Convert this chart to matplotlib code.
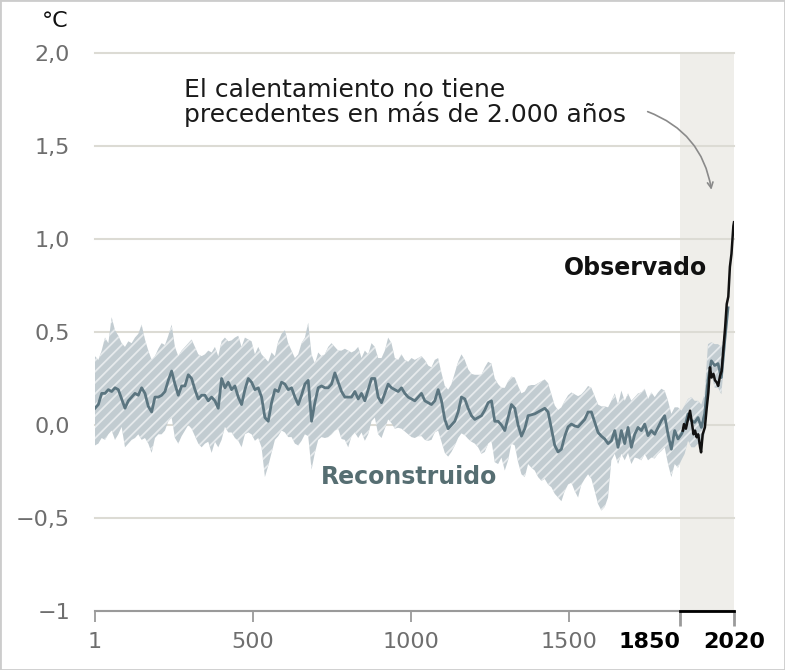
import numpy as np
import matplotlib.pyplot as plt
from matplotlib.patches import Rectangle

plt.rcParams['font.family'] = ['DejaVu Sans']
plt.rcParams['hatch.linewidth'] = 1.3

# reconstruccion: media y rango (~cada 10 años, 1-2000)
recon_mid = [
    0.09, 0.11, 0.17, 0.17, 0.19, 0.18, 0.20, 0.19, 0.14, 0.09,
    0.13, 0.15, 0.17, 0.16, 0.20, 0.17, 0.10, 0.07, 0.15, 0.15,
    0.16, 0.18, 0.24, 0.29, 0.22, 0.16, 0.21, 0.21, 0.27, 0.25,
    0.19, 0.14, 0.16, 0.16, 0.13, 0.15, 0.13, 0.09,
    0.25, 0.20, 0.23, 0.19, 0.21, 0.15, 0.11, 0.19, 0.25, 0.23,
    0.19, 0.20, 0.15, 0.04, 0.02, 0.12, 0.19, 0.18, 0.23, 0.22,
    0.19, 0.20, 0.15, 0.11, 0.16, 0.22, 0.24, 0.02, 0.12, 0.20,
    0.21, 0.20, 0.20, 0.22, 0.28, 0.23, 0.18, 0.15, 0.15,
    0.15, 0.18, 0.14, 0.17, 0.13, 0.19, 0.25, 0.25, 0.15, 0.12,
    0.17, 0.22, 0.20, 0.19, 0.18, 0.20, 0.17, 0.15, 0.14, 0.13,
    0.15, 0.17, 0.13, 0.12, 0.11, 0.13, 0.19, 0.13, 0.03, -0.02,
    0.00, 0.02, 0.07, 0.15, 0.14, 0.09, 0.05, 0.03, 0.04,
    0.05, 0.08, 0.12, 0.13, 0.02, 0.02, 0.00, -0.03, 0.04, 0.11,
    0.09, 0.00, -0.06, -0.02, 0.05, 0.055, 0.06, 0.07, 0.08, 0.09,
    0.07, -0.02, -0.11, -0.145, -0.13, -0.06, -0.01, 0.005, -0.005, -0.01,
    0.01, 0.03, 0.07, 0.07, 0.015, -0.04, -0.06, -0.075, -0.10,
    -0.085, -0.03, -0.12, -0.03, -0.10, -0.013, -0.12, -0.05, -0.013, -0.03,
    0.005, -0.057, -0.03, -0.05, -0.013, 0.023, 0.05, -0.05, -0.13, -0.03,
    -0.075, -0.05, -0.013, 0.06, 0.023, 0.014, 0.04, -0.013, 0.06, 0.24,
    0.345, 0.32, 0.33, 0.255, 0.45, 0.63,
]
recon_upper = [
    0.37, 0.35, 0.40, 0.47, 0.44, 0.58, 0.51, 0.48, 0.44, 0.42,
    0.45, 0.44, 0.47, 0.49, 0.54, 0.46, 0.40, 0.35, 0.37, 0.41,
    0.44, 0.43, 0.48, 0.54, 0.42, 0.37, 0.40, 0.42, 0.44, 0.46,
    0.42, 0.38, 0.37, 0.38, 0.40, 0.39, 0.42, 0.37,
    0.45, 0.47, 0.45, 0.455, 0.47, 0.48, 0.42, 0.47, 0.46, 0.45,
    0.38, 0.42, 0.38, 0.36, 0.34, 0.39, 0.37, 0.45, 0.49, 0.51,
    0.44, 0.40, 0.36, 0.38, 0.44, 0.47, 0.55, 0.38, 0.33, 0.39,
    0.37, 0.38, 0.42, 0.44, 0.42, 0.40, 0.40, 0.41, 0.40,
    0.39, 0.40, 0.42, 0.36, 0.40, 0.38, 0.44, 0.42, 0.36, 0.36,
    0.40, 0.47, 0.44, 0.36, 0.35, 0.38, 0.35, 0.34, 0.36, 0.35,
    0.36, 0.37, 0.35, 0.32, 0.31, 0.35, 0.36, 0.28, 0.21, 0.19,
    0.22, 0.28, 0.34, 0.38, 0.35, 0.30, 0.275, 0.27, 0.27,
    0.27, 0.31, 0.34, 0.33, 0.25, 0.22, 0.20, 0.20, 0.235, 0.26,
    0.255, 0.21, 0.17, 0.18, 0.21, 0.215, 0.215, 0.225, 0.235, 0.245,
    0.225, 0.165, 0.105, 0.08, 0.095, 0.13, 0.16, 0.175, 0.165, 0.155,
    0.165, 0.185, 0.21, 0.20, 0.155, 0.11, 0.10, 0.10, 0.095,
    0.13, 0.17, 0.11, 0.185, 0.13, 0.17, 0.13, 0.15, 0.17, 0.175,
    0.195, 0.14, 0.175, 0.15, 0.175, 0.195, 0.185, 0.13, 0.06, 0.095,
    0.095, 0.077, 0.105, 0.14, 0.15, 0.13, 0.13, 0.11, 0.17, 0.435,
    0.445, 0.435, 0.435, 0.42, 0.49, 0.65,
]
recon_lower = [
    -0.11, -0.10, -0.07, -0.08, -0.05, -0.03, -0.08, -0.05, -0.01, -0.12,
    -0.10, -0.08, -0.07, -0.05, -0.08, -0.07, -0.10, -0.15, -0.07, -0.05,
    -0.05, -0.03, 0.02, 0.04, -0.07, -0.10, -0.06, -0.03, 0.00, -0.02,
    -0.06, -0.10, -0.12, -0.10, -0.09, -0.15, -0.09, -0.12,
    -0.08, -0.01, -0.04, -0.04, -0.07, -0.085, -0.12, -0.05, -0.04, -0.05,
    -0.085, -0.07, -0.12, -0.28, -0.22, -0.15, -0.08, -0.06, -0.03, -0.04,
    -0.065, -0.065, -0.10, -0.11, -0.085, -0.05, -0.06, -0.24, -0.15, -0.08,
    -0.065, -0.07, -0.065, -0.05, -0.03, -0.02, -0.075, -0.08, -0.12,
    -0.06, -0.04, -0.07, -0.04, -0.085, -0.05, 0.02, 0.04, -0.05, -0.07,
    -0.02, 0.03, 0.01, -0.02, -0.015, -0.02, -0.035, -0.05, -0.065, -0.07,
    -0.06, -0.06, -0.08, -0.085, -0.08, -0.04, -0.03, -0.09, -0.15, -0.17,
    -0.145, -0.11, -0.07, -0.045, -0.055, -0.075, -0.09, -0.10, -0.12,
    -0.155, -0.145, -0.10, -0.085, -0.20, -0.21, -0.175, -0.245, -0.19, -0.10,
    -0.11, -0.20, -0.265, -0.28, -0.21, -0.23, -0.245, -0.28, -0.30, -0.29,
    -0.32, -0.335, -0.37, -0.39, -0.41, -0.355, -0.32, -0.31, -0.355, -0.39,
    -0.32, -0.29, -0.265, -0.29, -0.355, -0.425, -0.46, -0.44, -0.39,
    -0.19, -0.155, -0.21, -0.155, -0.19, -0.15, -0.21, -0.175, -0.18, -0.19,
    -0.155, -0.19, -0.175, -0.18, -0.155, -0.14, -0.12, -0.21, -0.28, -0.21,
    -0.23, -0.19, -0.155, -0.085, -0.12, -0.12, -0.10, -0.12, -0.05, 0.20,
    0.275, 0.20, 0.20, 0.165, 0.365, 0.61,
]
recon_years = np.linspace(1, 2001, len(recon_mid))

# observado (instrumental)
obs_years = [1858, 1862, 1868, 1876, 1881, 1886, 1892, 1897, 1902, 1907,
             1913, 1916, 1921, 1928, 1934, 1939, 1944, 1949, 1955, 1960,
             1965, 1970, 1976, 1981, 1986, 1992, 1997, 2002, 2007, 2012,
             2018, 2020]
obs_temp = [-0.03, 0.005, -0.02, 0.04, 0.077, 0.023, -0.05, -0.03, -0.066, -0.05,
            -0.12, -0.147, -0.05, -0.013, 0.095, 0.175, 0.31, 0.255, 0.275, 0.24,
            0.23, 0.21, 0.265, 0.29, 0.40, 0.525, 0.65, 0.69, 0.85, 0.92,
            1.07, 1.09]

y_ticks = [-1, -0.5, 0, 0.5, 1.0, 1.5, 2.0]
y_labels = ['−1', '−0,5', '0,0', '0,5', '1,0', '1,5', '2,0']
x_ticks = [1, 500, 1000, 1500, 1850, 2020]
x_labels = ['1', '500', '1000', '1500', '1850', '2020']

fig = plt.figure(figsize=(7.85, 6.70), dpi=100)
ax = fig.add_axes([95 / 785, 1 - 611 / 670, 639 / 785, 558 / 670])

# zona 1850-2020
ax.fill_betweenx([-1, 2], 1850, 2020, color='#efeeea', lw=0, zorder=0)

ax.fill_between(recon_years, recon_lower, recon_upper, facecolor='#c2ccd1',
                edgecolor='#e6eaec', hatch='///', lw=0, zorder=2)
ax.plot(recon_years, recon_mid, color='#5b7580', lw=2, zorder=3)
ax.plot(obs_years, obs_temp, color='#111111', lw=1.8, zorder=4)

ax.set_xlim(1, 2020)
ax.set_ylim(-1, 2)
ax.set_yticks(y_ticks)
ax.set_yticklabels(y_labels)
ax.set_xticks(x_ticks)
ax.set_xticklabels(x_labels)

ax.set_axisbelow(True)
ax.grid(axis='y', color='#dcdbd4', lw=1.5)
for gl in ax.get_ygridlines():
    gl.set_clip_on(False)

for s in ['left', 'top', 'right']:
    ax.spines[s].set_visible(False)
ax.spines['bottom'].set_color('#9a9a9a')
ax.spines['bottom'].set_linewidth(1.5)
ax.spines['bottom'].set_zorder(5)

ax.tick_params(axis='y', length=0, pad=18, labelsize=16, labelcolor='#6e6e6e')
ax.tick_params(axis='x', length=8, width=1.3, color='#9a9a9a', pad=7,
               labelsize=16, labelcolor='#6e6e6e')

ticks = ax.xaxis.get_major_ticks()
for t in ticks[4:]:
    t.tick1line.set_color('black')
    t.tick1line.set_markersize(11)
    t.tick1line.set_markeredgewidth(2)
    t.label1.set_color('black')
    t.label1.set_fontweight('bold')
ticks[4].label1.set_ha('right')

ax.plot([1850, 2020], [-1, -1], color='black', lw=2, clip_on=False, zorder=6)

# textos
fig.text(55 / 785, 1 - 21 / 670, '°C', fontsize=16, color='#111111',
         ha='center', va='center')
ax.text(282, 1.764, 'El calentamiento no tiene', fontsize=18,
        color='#1a1a1a', ha='left', va='baseline')
ax.text(282, 1.630, 'precedentes en más de 2.000 años', fontsize=18,
        color='#1a1a1a', ha='left', va='baseline')
ax.annotate('', xy=(1950, 1.25), xytext=(1739, 1.69),
            arrowprops=dict(arrowstyle='->', color='#8a8a8a', lw=1.2,
                            connectionstyle='arc3,rad=-0.3'))
ax.text(1710, 0.845, 'Observado', fontsize=17, fontweight='bold',
        color='#111111', ha='center', va='center')
ax.text(993, -0.282, 'Reconstruido', fontsize=17, fontweight='bold',
        color='#566e72', ha='center', va='center')

fig.add_artist(Rectangle((0, 0), 1, 1, transform=fig.transFigure, fill=False,
                         edgecolor='#cccccc', lw=2))

fig.savefig('out.png', dpi=100)
